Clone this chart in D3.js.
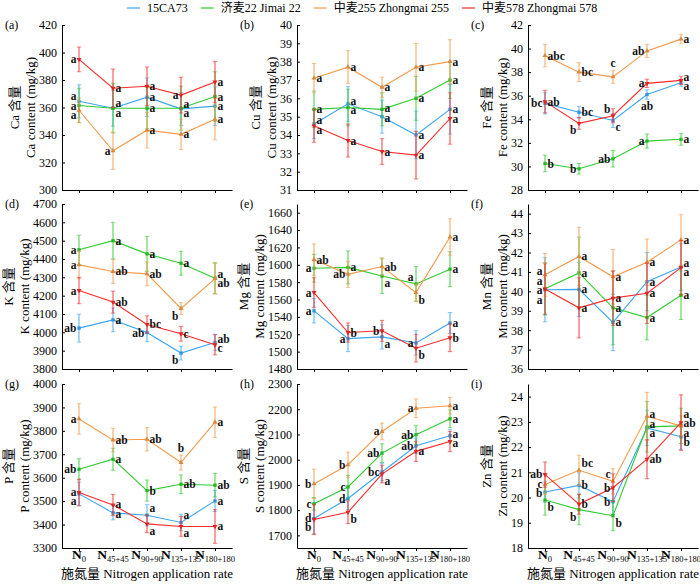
<!DOCTYPE html>
<html><head><meta charset="utf-8">
<script src="https://cdn.jsdelivr.net/npm/d3@7/dist/d3.min.js"></script>
<style>body{margin:0;background:#fff}svg{display:block}
svg text{font-family:"Liberation Serif","Times New Roman","Noto Sans CJK SC",serif;}</style>
</head><body>
<svg id="c" width="700" height="585"></svg>
<script>
// ---------- data ----------
const categories = ["N0", "N45+45", "N90+90", "N135+135", "N180+180"];
const seriesNames = ["15CA73", "济麦22 Jimai 22", "中麦255 Zhongmai 255", "中麦578 Zhongmai 578"];
const seriesColors = ["#3aa6f2", "#2ecc2e", "#f29a4a", "#f72a2a"];
const panelTags = ["(a)", "(b)", "(c)", "(d)", "(e)", "(f)", "(g)", "(h)", "(i)"];
const elements = ["Ca", "Cu", "Fe", "K", "Mg", "Mn", "P", "S", "Zn"];
const yDomains = [[300, 420], [31, 40], [28, 42], [3800, 4700], [1480, 1670], [36, 44.5], [3300, 4000], [1650, 2300], [18, 24.5]];
const yTickSteps = [20, 1, 2, 100, 20, 1, 100, 100, 1];
const xTitle = "施氮量 Nitrogen application rate";

// series order: 15CA73, Jimai 22, Zhongmai 255, Zhongmai 578
const meanCa = [[364.5, 359.5, 367.5, 359, 361], [361.5, 359.5, 359.5, 359.5, 368], [358, 328.5, 343.5, 340.5, 351.5], [395, 374, 375.5, 369, 378.5]];
const errCa = [[12, 13, 14, 12, 14], [12.5, 18, 15, 16, 18], [9, 13.5, 13, 11, 15], [9, 14, 14, 13, 15]];
const sigCa = [["a","a","a","a","a"], ["a","a","a","a","a"], ["a","a","a","a","a"], ["a","a","a","a","a"]];
const sideCa = [["L","R","R","R","R"], ["L","R","R","R","R"], ["L","L","R","R","R"], ["L","R","R","L","R"]];

const meanCu = [[34.6, 35.7, 35.0, 34.0, 35.4], [35.4, 35.5, 35.4, 36.0, 37.0], [37.1, 37.7, 36.6, 37.7, 38.0], [34.5, 33.7, 33.1, 32.9, 34.9]];
const errCu = [[0.8, 0.95, 0.9, 1.3, 1.35], [1.0, 1.0, 0.9, 1.2, 1.0], [0.8, 0.9, 0.55, 1.3, 1.2], [0.9, 0.9, 0.7, 1.3, 1.4]];
const sigCu = [["a","a","a","a","a"], ["a","a","a","a","a"], ["a","a","a","a","a"], ["a","a","a","a","a"]];
const sideCu = [["R","R","R","R","R"], ["R","R","R","R","R"], ["R","R","R","R","R"], ["R","R","R","R","R"]];

const meanFe = [[35.35, 34.6, 33.9, 36.1, 37.1], [30.25, 29.8, 30.65, 32.15, 32.3], [39.4, 38.0, 37.6, 39.8, 40.8], [35.5, 33.65, 34.3, 37.05, 37.3]];
const errFe = [[0.9, 0.5, 0.6, 0.4, 0.3], [0.7, 0.45, 0.7, 0.6, 0.5], [0.95, 0.8, 0.55, 0.55, 0.4], [0.95, 0.5, 0.6, 0.35, 0.35]];
const sigFe = [["bc","bc","c","ab","a"], ["b","b","ab","a","a"], ["abc","bc","c","ab","a"], ["ab","b","b","a","a"]];
const sideFe = [["L","R","Rd","D","R"], ["R","L","L","L","R"], ["R","R","U","L","R"], ["R","Ld","Lu","L","R"]];

const meanK = [[4023, 4068, 3999, 3887, 3945], [4450, 4500, 4428, 4377, 4295], [4368, 4332, 4319, 4130, 4293], [4228, 4165, 4043, 3992, 3932]];
const errK = [[76, 65, 50, 38, 45], [80, 100, 95, 65, 85], [75, 65, 65, 32, 83], [72, 60, 47, 40, 55]];
const sigK = [["ab","a","ab","b","ab"], ["a","a","a","a","a"], ["a","ab","ab","b","ab"], ["a","ab","bc","c","c"]];
const sideK = [["L","R","L","Ld","R"], ["L","R","R","R","R"], ["L","R","R","Ld","R"], ["L","R","R","R","R"]];

const meanMg = [[1547, 1515, 1517, 1510, 1533], [1596, 1597, 1587, 1578, 1595], [1606, 1589, 1598, 1568, 1632], [1568, 1522, 1524, 1504, 1516]];
const errMg = [[14, 15, 14, 14, 12], [16, 19, 20, 20, 20], [18, 15, 10, 10, 21], [17, 11, 12, 16, 16]];
const sigMg = [["a","a","a","a","a"], ["a","a","a","a","a"], ["ab","ab","ab","b","a"], ["a","b","b","b","b"]];
const sideMg = [["L","L","Rd","L","R"], ["L","R","Rd","Lu","R"], ["R","L","R","Rd","R"], ["L","R","L","Rd","R"]];

const meanMn = [[40.08, 40.1, 38.4, 40.5, 41.25], [40.13, 40.95, 39.15, 38.65, 39.8], [40.85, 41.8, 40.75, 41.5, 42.65], [40.12, 39.15, 39.65, 39.9, 41.22]];
const errMn = [[1.65, 1.4, 1.45, 1.5, 1.2], [1.35, 1.85, 1.9, 1.15, 1.25], [1.1, 1.5, 1.4, 1.2, 1.3], [1.3, 1.55, 1.4, 1.55, 1.4]];
const sigMn = [["a","a","a","a","a"], ["a","a","a","a","a"], ["a","a","a","a","a"], ["a","a","a","a","a"]];
const sideMn = [["L","R","R","R","R"], ["L","R","R","R","R"], ["L","R","R","R","R"], ["L","R","R","R","R"]];

const meanP = [[3531, 3450, 3440, 3409, 3501], [3636, 3679, 3545, 3572, 3568], [3851, 3761, 3764, 3665, 3837], [3537, 3484, 3403, 3392, 3392]];
const errP = [[50, 30, 45, 35, 45], [45, 47, 45, 40, 50], [65, 50, 50, 32, 65], [57, 45, 38, 42, 72]];
const sigP = [["a","a","a","a","a"], ["ab","a","b","ab","ab"], ["a","ab","ab","b","a"], ["a","a","a","a","a"]];
const sideP = [["Ld","R","Ru","Ru","R"], ["L","R","R","R","R"], ["L","R","R","U","R"], ["L","R","Rd","Rd","R"]];

const meanS = [[1767, 1846, 1951, 2055, 2095], [1825, 1892, 2026, 2099, 2162], [1904, 1980, 2112, 2204, 2214], [1763, 1792, 1943, 2033, 2072]];
const errS = [[60, 45, 35, 30, 25], [25, 45, 37, 37, 35], [58, 50, 33, 37, 33], [60, 45, 35, 40, 40]];
const sigS = [["d","d","bc","ab","a"], ["c","c","ab","ab","a"], ["b","b","a","a","a"], ["b","b","a","a","a"]];
const sideS = [["L","L","L","L","R"], ["L","L","L","L","R"], ["L","L","L","L","R"], ["Ld","Rd","Rd","R","R"]];

const meanZn = [[20.22, 20.48, 19.83, 22.76, 22.41], [19.9, 19.52, 19.28, 22.8, 22.84], [20.52, 21.08, 20.64, 23.22, 22.84], [20.91, 19.74, 20.39, 21.52, 22.97]];
const errZn = [[0.4, 0.5, 0.5, 0.7, 0.5], [0.6, 0.6, 0.6, 1.0, 0.7], [0.4, 0.6, 0.5, 0.95, 0.4], [0.5, 0.4, 0.55, 0.77, 1.1]];
const sigZn = [["b","b","b","a","b"], ["b","b","b","a","ab"], ["c","bc","c","a","a"], ["ab","b","b","ab","a"]];
const sideZn = [["L","R","L","R","R"], ["Rd","Ld","Rd","R","R"], ["L","Ru","Lu","R","R"], ["L","R","L","R","R"]];

const means = [meanCa, meanCu, meanFe, meanK, meanMg, meanMn, meanP, meanS, meanZn];
const errs = [errCa, errCu, errFe, errK, errMg, errMn, errP, errS, errZn];
const sigs = [sigCa, sigCu, sigFe, sigK, sigMg, sigMn, sigP, sigS, sigZn];
const sides = [sideCa, sideCu, sideFe, sideK, sideMg, sideMn, sideP, sideS, sideZn];

// ---------- layout ----------
const colX = [62, 297, 528];
const rowY = [[25, 190], [204, 369], [384, 548]];
const PW = 170;
const svg = d3.select("#c");

// legend
{
  const lg = svg.append("g").attr("transform", "translate(127,8)");
  let cx = 0;
  seriesNames.forEach((n, i) => {
    lg.append("line").attr("x1", cx).attr("x2", cx + 13).attr("y1", 0).attr("y2", 0)
      .attr("stroke", seriesColors[i]).attr("stroke-width", 1.2);
    const t = lg.append("text").attr("x", cx + 20).attr("y", 0).attr("dy", "0.35em")
      .attr("font-size", 12).text(n);
    cx += 20 + t.node().getComputedTextLength() + 13;
  });
}

const symbols = [d3.symbolSquare, d3.symbolSquare, d3.symbolTriangle, d3.symbolTriangle];

elements.forEach((el, pi) => {
  const col = pi % 3, row = Math.floor(pi / 3);
  const x0 = colX[col], [yt, yb] = rowY[row];
  const x = d3.scalePoint().domain(categories).range([x0, x0 + PW]).padding(0.5);
  const y = d3.scaleLinear().domain(yDomains[pi]).range([yb, yt]);
  const step = yTickSteps[pi];
  const tv = d3.range(Math.ceil(yDomains[pi][0] / step - 1e-9) * step, yDomains[pi][1] + step * 1e-6, step);
  const g = svg.append("g");

  // y axis
  const ya = g.append("g").attr("transform", `translate(${x0},0)`)
    .call(d3.axisLeft(y).tickValues(tv).tickSize(-3).tickSizeOuter(0).tickPadding(5)
      .tickFormat(d => d3.format("~g")(+d.toFixed(6))));
  ya.selectAll("text").attr("font-size", 12).attr("fill", "#000");
  ya.selectAll("line,path").attr("stroke", "#000");
  let maxW = 0;
  ya.selectAll("text").each(function () { maxW = Math.max(maxW, this.getComputedTextLength()); });

  // x axis
  const xa = g.append("g").attr("transform", `translate(0,${yb})`)
    .call(d3.axisBottom(x).tickSize(3).tickSizeOuter(0).tickFormat(""));
  xa.selectAll("line,path").attr("stroke", "#000");
  if (row === 2) {
    categories.forEach(c => {
      const t = g.append("text").attr("x", x(c)).attr("y", yb + 11).attr("text-anchor", "middle")
        .attr("font-size", 13.5).attr("fill", "#000");
      t.append("tspan").attr("font-weight", "bold").text(c[0]);
      t.append("tspan").attr("font-size", 8.5).attr("dy", 3).text(c.slice(1));
    });
    g.append("text").attr("x", x0 + PW / 2).attr("y", yb + 30).attr("text-anchor", "middle")
      .attr("font-size", 13).text(xTitle);
  }

  // y titles
  const tx2 = x0 - 5 - maxW - 9, tx1 = tx2 - 16, tcy = (yb + yt) / 2;
  g.append("text").attr("transform", `translate(${tx1},${tcy}) rotate(-90)`).attr("text-anchor", "middle")
    .attr("dy", "0.35em").attr("font-size", 13).text(el + " 含量");
  g.append("text").attr("transform", `translate(${tx2},${tcy}) rotate(-90)`).attr("text-anchor", "middle")
    .attr("dy", "0.35em").attr("font-size", 13).text(el + " content (mg/kg)");

  // panel tag
  g.append("text").attr("x", x0 - 57).attr("y", yt).attr("dy", "0.35em").attr("font-size", 12).text(panelTags[pi]);

  // series
  const labels = [];
  means[pi].forEach((vals, si) => {
    const col = seriesColors[si];
    const e = errs[pi][si];
    const sg = g.append("g");
    vals.forEach((v, k) => {
      const cx = x(categories[k]);
      sg.append("line").attr("x1", cx).attr("x2", cx).attr("y1", y(v - e[k])).attr("y2", y(v + e[k]))
        .attr("stroke", col).attr("stroke-opacity", 0.5).attr("stroke-width", 1.8);
      [v - e[k], v + e[k]].forEach(w => sg.append("line").attr("x1", cx - 2.2).attr("x2", cx + 2.2)
        .attr("y1", y(w)).attr("y2", y(w)).attr("stroke", col).attr("stroke-opacity", 0.6).attr("stroke-width", 1));
    });
    sg.append("path").datum(vals)
      .attr("d", d3.line().x((d, k) => x(categories[k])).y(d => y(d)))
      .attr("fill", "none").attr("stroke", col).attr("stroke-width", 1.1);
    vals.forEach((v, k) => {
      sg.append("path").attr("d", d3.symbol(symbols[si], 11)())
        .attr("transform", `translate(${x(categories[k])},${y(v)})${si === 3 ? " rotate(180)" : ""}`)
        .attr("fill", d3.color(col).darker(0.3));
    });
    vals.forEach((v, k) => {
      const sd = sides[pi][si][k];
      const cx = x(categories[k]);
      let lx, ly, anchor, grp;
      if (sd === "U") { lx = cx; ly = y(v + e[k]) - 7; anchor = "middle"; grp = "U"; }
      else if (sd === "D") { lx = cx; ly = y(v - e[k]) + 7; anchor = "middle"; grp = "D"; }
      else {
        const right = sd[0] === "R";
        lx = right ? cx + 2.5 : cx - 2.5; anchor = right ? "start" : "end";
        ly = y(v) + (sd[1] === "u" ? -7 : sd[1] === "d" ? 7 : 0);
        grp = right ? "R" : "L";
      }
      labels.push({ k, grp, lx, ly, anchor, text: sigs[pi][si][k] });
    });
  });

  const groups = d3.group(labels, d => d.k + "|" + d.grp);
  groups.forEach(arr => {
    arr.sort((a, b) => a.ly - b.ly);
    const gap = 9.5;
    for (let it = 0; it < 60; it++) {
      let moved = false;
      for (let i = 1; i < arr.length; i++) {
        const ov = arr[i - 1].ly + gap - arr[i].ly;
        if (ov > 0.01) { arr[i - 1].ly -= ov / 2; arr[i].ly += ov / 2; moved = true; }
      }
      if (!moved) break;
    }
  });
  labels.forEach(l => {
    g.append("text").attr("x", l.lx).attr("y", l.ly).attr("dy", "0.35em").attr("text-anchor", l.anchor)
      .attr("font-size", 11.5).attr("font-weight", "bold").attr("fill", "#111").text(l.text);
  });
});
</script>
</body></html>
